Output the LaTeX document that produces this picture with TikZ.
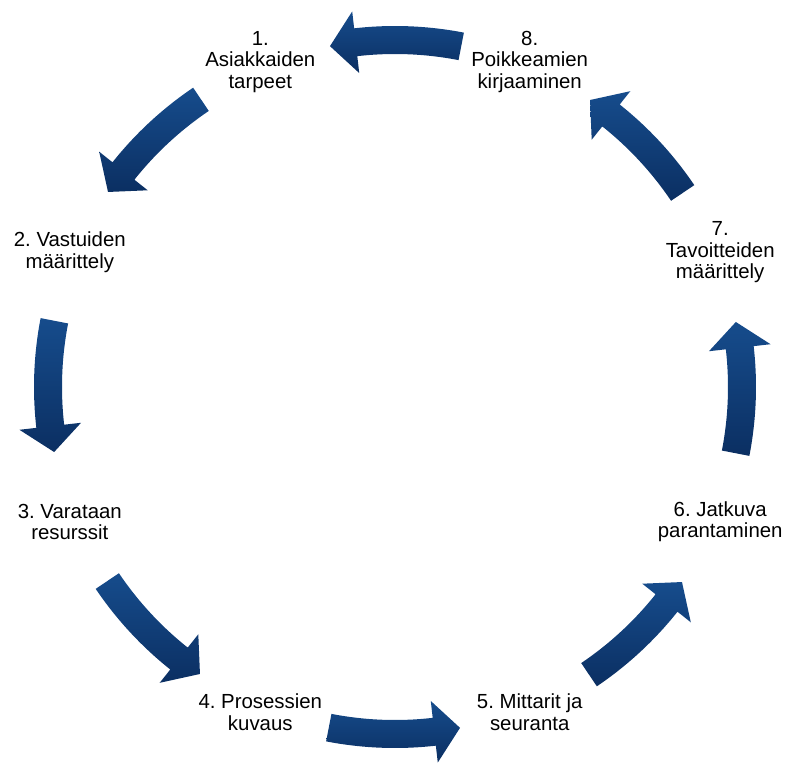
\documentclass[tikz,border=0pt]{standalone}
\usepackage{fontspec}
\setmainfont{Liberation Sans}
\frenchspacing
\definecolor{arrowtop}{RGB}{22,76,140}
\definecolor{arrowbot}{RGB}{11,47,98}
% curved block arrow on the cycle, #1 = mid angle
\newcommand{\cyclearrow}[1]{%
  \shade[cycle arrow] ({#1-11}:361) arc[start angle={#1-11},end angle={#1+6.5},radius=361]
    -- ({#1+6.5}:378) -- ({#1+10.8}:347) -- ({#1+6.5}:316) -- ({#1+6.5}:333)
    arc[start angle={#1+6.5},end angle={#1-11},radius=333] -- cycle;}

\begin{document}
\begin{tikzpicture}[x=0.75pt,y=0.75pt,step label/.style={align=center,font=\fontsize{15.3}{16}\selectfont,inner sep=0},cycle arrow/.style={top color=arrowtop,bottom color=arrowbot,draw=none}]
  \useasboundingbox (-395,-377) rectangle (394,387);
  \coordinate (c) at (0,0);
  \node[step label] (n1) at (112.5:352) {1.\\Asiakkaiden\\tarpeet};
  \node[step label] (n2) at (157.5:352) {2. Vastuiden\\määrittely};
  \node[step label] (n3) at (202.5:352) {3. Varataan\\resurssit};
  \node[step label] (n4) at (247.5:352) {4. Prosessien\\kuvaus};
  \node[step label] (n5) at (292.5:352) {5. Mittarit ja\\seuranta};
  \node[step label] (n6) at (337.5:352) {6. Jatkuva\\parantaminen};
  \node[step label] (n7) at (22.5:352) {7.\\Tavoitteiden\\määrittely};
  \node[step label] (n8) at (67.5:352) {8.\\Poikkeamien\\kirjaaminen};
  \cyclearrow{135}
  \cyclearrow{180}
  \cyclearrow{225}
  \cyclearrow{270}
  \cyclearrow{315}
  \cyclearrow{0}
  \cyclearrow{45}
  \cyclearrow{90}
\end{tikzpicture}
\end{document}
